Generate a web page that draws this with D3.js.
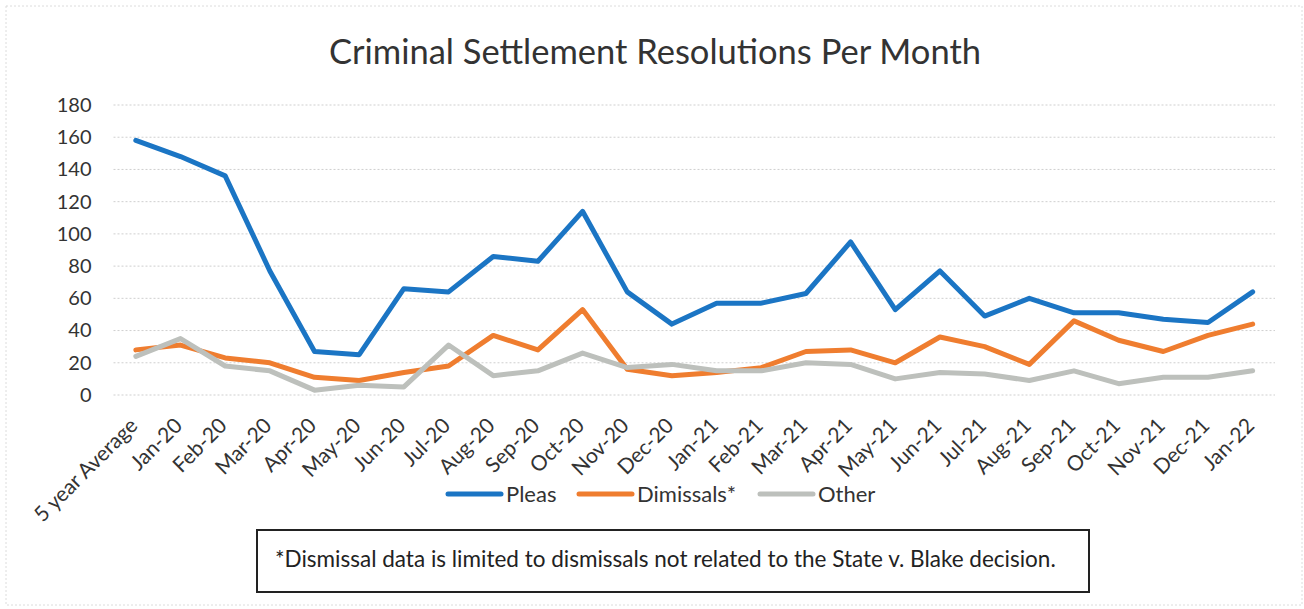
<!DOCTYPE html>
<html>
<head>
<meta charset="utf-8">
<script src="https://cdn.jsdelivr.net/npm/d3@7"></script>
<style>
  body { margin: 0; background: #fff; }
  svg { display: block; font-family: Lato, "Open Sans", sans-serif; }
</style>
</head>
<body>
<div id="chart"></div>
<script>
const categories = ['5 year Average', 'Jan-20', 'Feb-20', 'Mar-20', 'Apr-20', 'May-20', 'Jun-20',
  'Jul-20', 'Aug-20', 'Sep-20', 'Oct-20', 'Nov-20', 'Dec-20', 'Jan-21', 'Feb-21', 'Mar-21',
  'Apr-21', 'May-21', 'Jun-21', 'Jul-21', 'Aug-21', 'Sep-21', 'Oct-21', 'Nov-21', 'Dec-21', 'Jan-22'];

const pleas = [158, 148, 136, 77, 27, 25, 66, 64, 86, 83, 114, 64, 44, 57, 57, 63,
  95, 53, 77, 49, 60, 51, 51, 47, 45, 64];
const dismissals = [28, 31, 23, 20, 11, 9, 14, 18, 37, 28, 53, 16, 12, 14, 17, 27,
  28, 20, 36, 30, 19, 46, 34, 27, 37, 44];
const other = [24, 35, 18, 15, 3, 6, 5, 31, 12, 15, 26, 17, 19, 15, 15, 20,
  19, 10, 14, 13, 9, 15, 7, 11, 11, 15];

const yTicks = [0, 20, 40, 60, 80, 100, 120, 140, 160, 180];

const seriesNames = ['Pleas', 'Dimissals*', 'Other'];
const seriesColors = ['#1b75c4', '#ef7d2f', '#bdc0bc'];
const seriesValues = [pleas, dismissals, other];

const title = 'Criminal Settlement Resolutions Per Month';
const note = '*Dismissal data is limited to dismissals not related to the State v. Blake decision.';

const width = 1304, height = 609;

const svg = d3.select('#chart')
  .append('svg')
  .attr('width', width)
  .attr('height', height);

// faint outer frame of the chart area
svg.append('rect')
  .attr('x', 6).attr('y', 6)
  .attr('width', 1296).attr('height', 599)
  .attr('fill', 'none')
  .attr('stroke', '#dcdcdc')
  .attr('stroke-dasharray', '2,2');

svg.append('text')
  .attr('x', 655)
  .attr('y', 64)
  .attr('text-anchor', 'middle')
  .attr('fill', '#333')
  .style('font-size', '34.5px')
  .text(title);

const x = d3.scaleBand()
  .domain(categories)
  .range([113.5, 1275]);

const y = d3.scaleLinear()
  .domain([0, 180])
  .range([395, 105]);

// gridlines
svg.append('g')
  .selectAll('line')
  .data(yTicks)
  .join('line')
  .attr('x1', x.range()[0])
  .attr('x2', x.range()[1])
  .attr('y1', d => y(d))
  .attr('y2', d => y(d))
  .attr('stroke', '#cfcfcf')
  .attr('stroke-width', 1)
  .attr('stroke-dasharray', '2,2');

// y axis labels
const yAxis = svg.append('g')
  .attr('transform', `translate(${x.range()[0]},0)`)
  .call(d3.axisLeft(y).tickValues(yTicks).tickSize(0).tickPadding(22));
yAxis.select('.domain').remove();
yAxis.selectAll('text')
  .attr('fill', '#333')
  .style('font-family', 'Lato, sans-serif')
  .style('font-size', '20px');

// x axis labels
const xAxis = svg.append('g')
  .attr('transform', `translate(0,${y(0)})`)
  .call(d3.axisBottom(x).tickSize(0));
xAxis.select('.domain').remove();
xAxis.selectAll('text')
  .attr('fill', '#333')
  .style('font-family', 'Lato, sans-serif')
  .style('font-size', '21px')
  .attr('text-anchor', 'end')
  .attr('y', 0)
  .attr('dy', 0)
  .attr('transform', 'translate(3,32) rotate(-45)');

const line = d3.line()
  .x((d, i) => x(categories[i]) + x.bandwidth() / 2)
  .y(d => y(d));

svg.append('g')
  .selectAll('path')
  .data(seriesValues)
  .join('path')
  .attr('d', d => line(d))
  .attr('fill', 'none')
  .attr('stroke', (d, i) => seriesColors[i])
  .attr('stroke-width', 5)
  .attr('stroke-linejoin', 'round')
  .attr('stroke-linecap', 'round');

// legend
const legendX = [448, 579, 760];
const legend = svg.append('g')
  .selectAll('g')
  .data(seriesNames)
  .join('g')
  .attr('transform', (d, i) => `translate(${legendX[i]},494)`);

legend.append('line')
  .attr('x1', 0).attr('x2', 53)
  .attr('stroke', (d, i) => seriesColors[i])
  .attr('stroke-width', 5)
  .attr('stroke-linecap', 'round');

legend.append('text')
  .attr('x', 58)
  .attr('y', 8)
  .attr('fill', '#333')
  .style('font-size', '22px')
  .text(d => d);

// footnote box
svg.append('rect')
  .attr('x', 257).attr('y', 530)
  .attr('width', 832).attr('height', 62)
  .attr('fill', '#fff')
  .attr('stroke', '#222')
  .attr('stroke-width', 2);

svg.append('text')
  .attr('x', 275)
  .attr('y', 567)
  .attr('fill', '#222')
  .style('font-size', '22.5px')
  .text(note);
</script>
</body>
</html>
